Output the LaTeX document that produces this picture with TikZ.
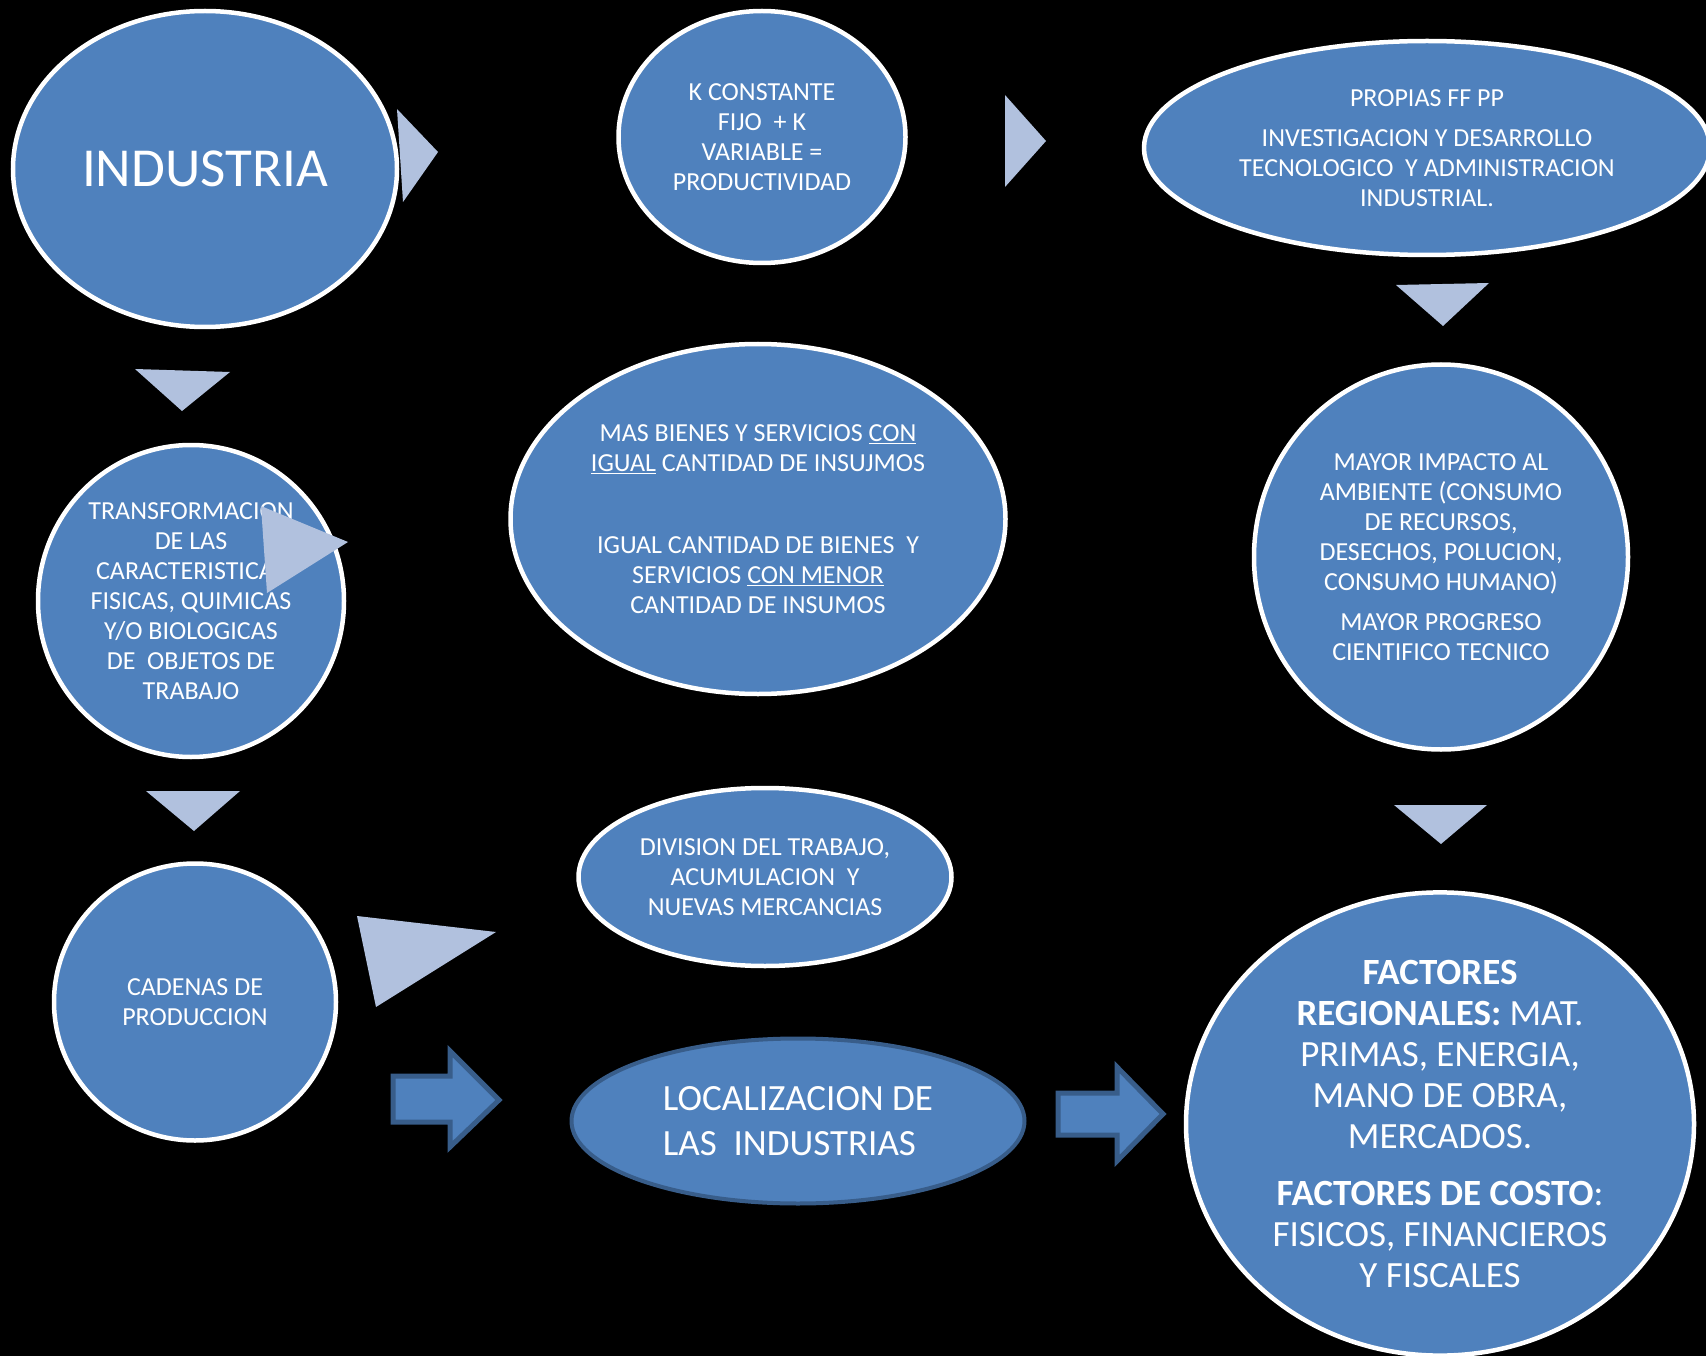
\documentclass[tikz,border=0pt]{standalone}
\usepackage{fontspec}
\setmainfont{Carlito}
\usetikzlibrary{shapes.geometric}

\definecolor{blobblue}{RGB}{79,129,189}
\definecolor{blobedge}{RGB}{56,93,138}
\definecolor{tripale}{RGB}{177,193,222}

\tikzset{
  blob/.style={ellipse, fill=blobblue, draw=white, line width=4.5pt, text=white,
    align=center, inner sep=0pt, font=\fontsize{26}{30}\selectfont},
  tri/.style={fill=tripale},
  blockarrow/.style={fill=blobblue, draw=blobedge, line width=5pt, line join=miter}
}

\begin{document}
\begin{tikzpicture}[x=1pt, y=-1pt]
    \fill[black] (0,0) rectangle (1706,1356);
    \useasboundingbox (0,0) rectangle (1706,1356);

    % left column
    \node[blob, minimum width=384, minimum height=316, font=\fontsize{55}{60}\selectfont] (industria) at (205,169) {INDUSTRIA};
    \node[blob, minimum width=306, minimum height=312] (transf) at (191,601) {TRANSFORMACION\\DE LAS\\CARACTERISTICAS\\FISICAS, QUIMICAS\\Y/O BIOLOGICAS\\DE\ \ OBJETOS DE\\TRABAJO};
    \node[blob, minimum width=282, minimum height=277] (cadenas) at (195,1002) {CADENAS DE\\PRODUCCION};

    % middle column
    \node[blob, minimum width=287, minimum height=252] (kconst) at (762,137) {K CONSTANTE\\FIJO\ \ + K\\VARIABLE =\\PRODUCTIVIDAD};
    \node[blob, minimum width=495, minimum height=350] (bienes) at (758,519) {MAS BIENES Y SERVICIOS \underline{CON}\\\underline{IGUAL} CANTIDAD DE INSUJMOS\\[52pt]IGUAL CANTIDAD DE BIENES\ \ Y\\SERVICIOS \underline{CON MENOR}\\CANTIDAD DE INSUMOS};
    \node[blob, minimum width=373, minimum height=178] (division) at (765,877) {DIVISION DEL TRABAJO,\\ACUMULACION\ \ Y\\NUEVAS MERCANCIAS};
    \node[blob, draw=blobedge, line width=4pt, minimum width=453, minimum height=165, align=left, font=\fontsize{37}{45}\selectfont] (localiz) at (798,1121) {LOCALIZACION DE\\LAS\ \ INDUSTRIAS};

    % right column
    \node[blob, minimum width=566, minimum height=214] (propias) at (1427,148) {PROPIAS FF PP\\[10pt]INVESTIGACION Y DESARROLLO\\TECNOLOGICO\ \ Y ADMINISTRACION\\INDUSTRIAL.};
    \node[blob, minimum width=374, minimum height=385] (impacto) at (1441,557) {MAYOR IMPACTO AL\\AMBIENTE (CONSUMO\\DE RECURSOS,\\DESECHOS, POLUCION,\\CONSUMO HUMANO)\\[10pt]MAYOR PROGRESO\\CIENTIFICO TECNICO};
    \node[blob, minimum width=508, minimum height=454, font=\fontsize{37}{41}\selectfont] (factores) at (1440,1124) {\textbf{FACTORES}\\\textbf{REGIONALES:} MAT.\\PRIMAS, ENERGIA,\\MANO DE OBRA,\\MERCADOS.\\[16pt]\textbf{FACTORES DE COSTO}:\\FISICOS, FINANCIEROS\\Y FISCALES};

    % pale triangles
    \fill[tri] (397,109) -- (438,152) -- (403,202) -- cycle;
    \fill[tri] (1005,95) -- (1046,141) -- (1005,187) -- cycle;
    \fill[tri] (1396,285) -- (1489,283) -- (1443,326) -- cycle;
    \fill[tri] (135,369) -- (230,372) -- (182,411) -- cycle;
    \fill[tri] (261,506) -- (348,542) -- (267,593) -- cycle;
    \fill[tri] (146,791) -- (240,791) -- (194,831) -- cycle;
    \fill[tri] (1394,805) -- (1487,805) -- (1441,844) -- cycle;
    \fill[tri] (357,916) -- (496,932) -- (376,1007) -- cycle;

    % block arrows
    \draw[blockarrow] (393,1076) -- (450,1076) -- (450,1051) -- (499,1100) -- (450,1147) -- (450,1122) -- (393,1122) -- cycle;
    \draw[blockarrow] (1058,1093) -- (1117,1093) -- (1117,1067) -- (1163,1114) -- (1117,1161) -- (1117,1135) -- (1058,1135) -- cycle;
\end{tikzpicture}
\end{document}
